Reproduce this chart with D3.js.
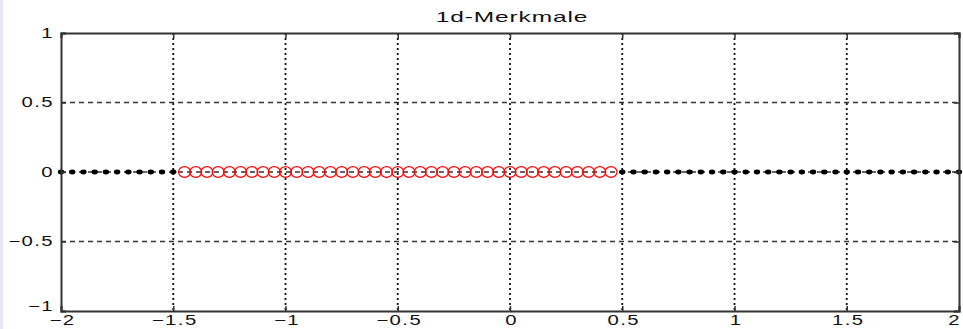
<!DOCTYPE html>
<html>
<head>
<meta charset="utf-8">
<script src="https://cdn.jsdelivr.net/npm/d3@7"></script>
<style>
  body { margin: 0; background: #fff; }
  text { font-family: "Liberation Sans", Arial, sans-serif; }
</style>
</head>
<body>
<div id="chart"></div>
<script>
// feature values (step 0.05)
var blackLeft = [-2, -1.95, -1.9, -1.85, -1.8, -1.75, -1.7, -1.65, -1.6, -1.55, -1.5]
var redMid = [-1.45, -1.4, -1.35, -1.3, -1.25, -1.2, -1.15, -1.1, -1.05, -1, -0.95, -0.9, -0.85, -0.8,
  -0.75, -0.7, -0.65, -0.6, -0.55, -0.5, -0.45, -0.4, -0.35, -0.3, -0.25, -0.2, -0.15, -0.1, -0.05,
  0, 0.05, 0.1, 0.15, 0.2, 0.25, 0.3, 0.35, 0.4, 0.45]
var blackRight = [0.5, 0.55, 0.6, 0.65, 0.7, 0.75, 0.8, 0.85, 0.9, 0.95, 1, 1.05, 1.1, 1.15, 1.2, 1.25,
  1.3, 1.35, 1.4, 1.45, 1.5, 1.55, 1.6, 1.65, 1.7, 1.75, 1.8, 1.85, 1.9, 1.95, 2]
var xTicks = [-2, -1.5, -1, -0.5, 0, 0.5, 1, 1.5, 2]
var yTicks = [-1, -0.5, 0, 0.5, 1]
var title = "1d-Merkmale"

var width = 963, height = 329
var margin = { top: 33, right: 3, bottom: 18, left: 61 }
var stretch = 1.45

var svg = d3.select("#chart").append("svg")
    .attr("width", width)
    .attr("height", height)

// faint strip on the left edge of the screenshot
svg.append("rect").attr("x", 0).attr("y", 0).attr("width", 3).attr("height", height).attr("fill", "#e6e6f6")

var x = d3.scaleLinear().domain([-2, 2]).range([margin.left, width - margin.right - 1])
var y = d3.scaleLinear().domain([-1, 1]).range([height - margin.bottom, margin.top])

var g = svg.append("g")

// grid
g.selectAll(".vgrid").data(xTicks.slice(1, -1)).enter().append("line")
    .attr("x1", d => x(d)).attr("x2", d => x(d))
    .attr("y1", y(1)).attr("y2", y(-1))
    .attr("stroke", "#111").attr("stroke-width", 1.8)
    .attr("stroke-dasharray", "2,3")

g.selectAll(".hgrid").data(yTicks.slice(1, -1)).enter().append("line")
    .attr("x1", x(-2)).attr("x2", x(2))
    .attr("y1", d => y(d)).attr("y2", d => y(d))
    .attr("stroke", "#333").attr("stroke-width", 1.4)
    .attr("stroke-dasharray", "5,4")

// axes (ticks inward)
var xAxis = d3.axisBottom(x).tickValues(xTicks).tickSize(-5).tickFormat(d3.format(""))
var yAxis = d3.axisLeft(y).tickValues(yTicks).tickSize(-5).tickFormat(d3.format(""))

var gx = svg.append("g").attr("transform", "translate(0," + y(-1) + ")").call(xAxis)
var gy = svg.append("g").attr("transform", "translate(" + x(-2) + ",0)").call(yAxis)
svg.append("g").attr("transform", "translate(0," + y(1) + ")")
    .call(d3.axisTop(x).tickValues(xTicks).tickSize(-5).tickFormat(""))
svg.append("g").attr("transform", "translate(" + x(2) + ",0)")
    .call(d3.axisRight(y).tickValues(yTicks).tickSize(-5).tickFormat(""))

svg.selectAll(".domain").attr("stroke", "#333").attr("stroke-width", 2)
svg.selectAll(".tick line").attr("stroke", "#333").attr("stroke-width", 1.5)
svg.selectAll(".tick text").attr("fill", "#111").attr("font-size", 14)
    .style("letter-spacing", "1px").attr("x", 0).attr("y", 0)

// labels are stretched horizontally like the original screenshot
gx.selectAll(".tick text")
    .attr("dy", "0.71em")
    .attr("transform", d => "translate(" + (d === 2 ? -5 : 1) + ",4) scale(" + stretch + ",1)")
gy.selectAll(".tick text")
    .attr("dy", d => d === -1 ? "-0.05em" : "0.32em")
    .attr("transform", "translate(-7,0) scale(" + stretch + ",1)")

// data
var pts = g.append("g")
pts.selectAll(".red").data(redMid).enter().append("ellipse")
    .attr("cx", d => x(d)).attr("cy", y(0)).attr("rx", 6).attr("ry", 5.3)
    .attr("fill", "none").attr("stroke", "#f00").attr("stroke-width", 1.2)

pts.selectAll(".blk").data(blackLeft.concat(blackRight)).enter().append("ellipse")
    .attr("cx", d => x(d)).attr("cy", y(0)).attr("rx", 3.2).attr("ry", 2.4)
    .attr("fill", "#000")

// title
svg.append("text")
    .attr("transform", "translate(" + ((x(-2) + x(2)) / 2 + 2) + ",22) scale(1.75,1)")
    .attr("text-anchor", "middle")
    .attr("font-size", 14)
    .attr("fill", "#111")
    .style("letter-spacing", "0.5px")
    .text(title)
</script>
</body>
</html>
